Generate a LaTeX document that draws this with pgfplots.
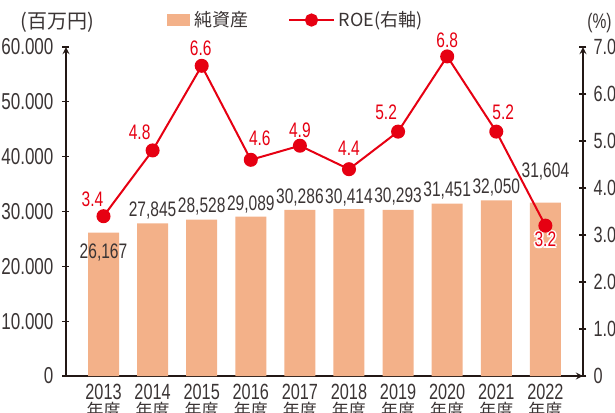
\documentclass[border=0pt]{standalone}
\usepackage{pgfplots}
\pgfplotsset{compat=1.18}
\usepackage{fontspec}
\setmainfont{Liberation Sans}[FakeStretch=0.74]
\newfontfamily\cjk{Noto Sans CJK JP}
\definecolor{barc}{HTML}{F3B189}
\definecolor{roe}{HTML}{E60012}
\definecolor{txt}{HTML}{3A3434}
\definecolor{axc}{HTML}{231815}
\newcommand\yl[1]{#1\\[0pt]{\cjk\fontsize{8.5}{8.5}\selectfont 年度}}
\begin{document}
\begin{tikzpicture}
\pgfplotsset{
  common/.style={scale only axis, width=258.5pt, height=164.5pt, at={(0pt,0pt)}, anchor=south west,
    xmin=-0.764, xmax=9.766, axis line style={-, draw=axc, line width=0.6pt},
    tick align=inside, major tick length=3.5pt, tick style={draw=axc, line width=0.6pt},
    clip=false},
}
\begin{axis}[common, ymin=0, ymax=60000,
  axis x line=bottom, axis y line=left,
  xtick={0,1,2,3,4,5,6,7,8,9}, xtick style={draw=none},
  xticklabels={\yl{2013},\yl{2014},\yl{2015},\yl{2016},\yl{2017},\yl{2018},\yl{2019},\yl{2020},\yl{2021},\yl{2022}},
  xticklabel style={align=center, font=\fontsize{11}{8.5}\selectfont, text=txt, inner sep=0pt, yshift=-2pt},
  ytick={0,10000,20000,30000,40000,50000,60000},
  yticklabels={0,10.000,20.000,30.000,40.000,50.000,60.000},
  yticklabel style={font=\fontsize{11.5}{12}\selectfont, text=txt, xshift=-1pt},
  scaled y ticks=false,
]
\addplot[ybar, bar width=15.5pt, fill=barc, draw=none] coordinates {
(0,26167) (1,27845) (2,28528) (3,29089) (4,30286) (5,30414) (6,30293) (7,31451) (8,32050) (9,31604)};
\begin{scope}[every node/.style={font=\fontsize{10.5}{12}\selectfont, text=txt}]
\node at (axis cs:0,26167) [yshift=-10pt] {26,167};
\node at (axis cs:1,27845) [yshift=6.5pt] {27,845};
\node at (axis cs:2,28528) [yshift=6.5pt] {28,528};
\node at (axis cs:3,29089) [yshift=6pt] {29,089};
\node at (axis cs:4,30286) [yshift=6pt] {30,286};
\node at (axis cs:5,30414) [yshift=6pt] {30,414};
\node at (axis cs:6,30293) [yshift=6.5pt] {30,293};
\node at (axis cs:7,31451) [yshift=6.5pt] {31,451};
\node at (axis cs:8,32050) [yshift=6.5pt] {32,050};
\node at (axis cs:9,31604) [yshift=15.5pt] {31,604};
\end{scope}
\end{axis}
\begin{axis}[common, ymin=0, ymax=7,
  axis x line=none, axis y line=right,
  ytick={0,1,2,3,4,5,6,7},
  yticklabels={0,1.0,2.0,3.0,4.0,5.0,6.0,7.0},
  yticklabel style={font=\fontsize{11}{12}\selectfont, text=txt},
  legend style={at={(0.1954,1.082)}, anchor=west, draw=none, fill=none, legend columns=2, inner sep=0pt,
     font=\cjk\fontsize{9}{10}\selectfont, text=txt,
     /tikz/every even column/.append style={column sep=18pt}},
  legend cell align=left,
]
\addlegendimage{legend image code/.code={\fill[barc] (0pt,-2.75pt) rectangle (11pt,2.75pt);}}
\addlegendentry{純資産}
\addplot[roe, line width=1pt, mark=*, mark size=3pt, mark options={fill=roe, draw=roe},
  legend image code/.code={\draw[roe, line width=0.8pt] (0pt,0pt) -- (22.5pt,0pt); \fill[roe] (11.25pt,0pt) circle (2.8pt);}]
  coordinates {(0,3.4) (1,4.8) (2,6.6) (3,4.6) (4,4.9) (5,4.4) (6,5.2) (7,6.8) (8,5.2) (9,3.2)};
\addlegendentry{ROE(右軸)}
\begin{scope}[every node/.style={font=\fontsize{10.5}{12}\selectfont, text=roe}]
\node at (axis cs:0,3.4) [xshift=-5.5pt, yshift=8.5pt] {3.4};
\node at (axis cs:1,4.8) [xshift=-6.5pt, yshift=9pt] {4.8};
\node at (axis cs:2,6.6) [xshift=-0.5pt, yshift=9pt] {6.6};
\node at (axis cs:3,4.6) [xshift=4.5pt, yshift=11pt] {4.6};
\node at (axis cs:4,4.9) [yshift=7.5pt] {4.9};
\node at (axis cs:5,4.4) [yshift=10.5pt] {4.4};
\node at (axis cs:6,5.2) [xshift=-6pt, yshift=9.5pt] {5.2};
\node at (axis cs:7,6.8) [yshift=8pt] {6.8};
\node at (axis cs:8,5.2) [xshift=3.5pt, yshift=9.5pt] {5.2};
\node[text=white] at (axis cs:9,3.2) [xshift=0.8pt, yshift=-7pt] {3.2};
\node[text=white] at (axis cs:9,3.2) [xshift=-0.8pt, yshift=-7pt] {3.2};
\node[text=white] at (axis cs:9,3.2) [yshift=-6.2pt] {3.2};
\node[text=white] at (axis cs:9,3.2) [yshift=-7.8pt] {3.2};
\node[text=white] at (axis cs:9,3.2) [xshift=0.6pt, yshift=-6.4pt] {3.2};
\node[text=white] at (axis cs:9,3.2) [xshift=-0.6pt, yshift=-6.4pt] {3.2};
\node[text=white] at (axis cs:9,3.2) [xshift=0.6pt, yshift=-7.6pt] {3.2};
\node[text=white] at (axis cs:9,3.2) [xshift=-0.6pt, yshift=-7.6pt] {3.2};
\node at (axis cs:9,3.2) [yshift=-7pt] {3.2};
\end{scope}
\end{axis}
\node[font=\cjk\fontsize{10}{11}\selectfont, text=txt] at (-4.25pt,177pt) {(百万円)};
\node[font=\fontsize{10.5}{12}\selectfont, text=txt] at (266.75pt,176.5pt) {(\%)};
\pgfresetboundingbox
\path[use as bounding box] (-33pt,-18pt) rectangle (274.5pt,188pt);
\end{tikzpicture}
\end{document}
